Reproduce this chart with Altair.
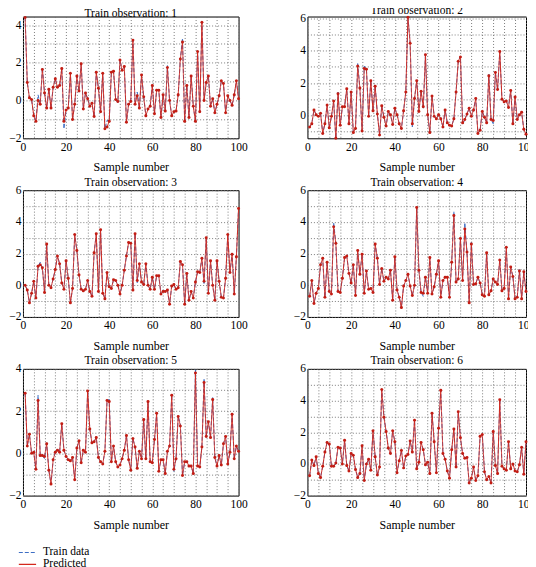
import math
import altair as alt
import pandas as pd

SAMPLES = list(range(1, 101))
SERIES = ["Train data", "Predicted"]
COLORS = ["#3d6ec4", "#d4281c"]

PRED_1 = [4.4, 0.95, 0.15, 0.05, -0.8, -1.1, 0.0, -0.2, 1.65, 0.4,
          -0.4, 0.6, -0.4, 0.7, 1.15, 0.7, 0.8, 1.7, -1.1, -0.5,
          -0.4, 1.45, -1.0, -0.2, 1.3, 0.5, 1.95, -0.45, 0.4, 0.1,
          -0.3, -0.15, -0.85, 1.5, 0.65, -0.6, 1.45, -1.5, -1.4, -1.1,
          1.5, 1.55, 0.05, -0.05, 2.15, 1.6, 1.8, -1.15, -0.2, -0.05,
          3.2, -0.2, 0.25, -0.4, 1.35, 0.2, -0.8, -0.45, -0.3, 0.8,
          -0.7, 0.55, 0.55, -0.9, 0.3, -0.55, 1.75, 0.0, -0.8, -0.6,
          -0.55, 0.3, 2.2, 3.1, -1.1, 0.8, -0.9, 1.3, -0.3, -1.1,
          2.6, -0.6, 4.15, 0.0, 0.95, 1.3, -0.3, 0.1, -0.65, -0.2,
          0.25, 1.05, 0.9, -0.65, 0.25, 0.0, -0.25, 0.3, 1.05, 0.1]
TRAIN_FIX_1 = {7: 0.3, 9: 1.75, 19: -1.5, 39: -1.05, 44: -0.1, 53: 0.45, 67: 1.85, 74: 3.3}

PRED_2 = [-0.7, -0.5, 0.35, 0.05, -0.05, 0.15, -1.1, -0.5, 0.65, -0.75,
          -0.05, 0.9, -1.4, 1.35, -0.6, 0.55, 0.55, 1.65, -0.5, 1.45,
          -1.05, -0.8, 3.05, 1.7, -0.95, 2.9, 2.85, -0.05, 2.15, 0.3,
          1.8, 0.1, -1.2, 0.6, -0.1, -0.65, 0.25, 0.05, -0.55, 0.45,
          0.05, -0.5, -0.8, 0.3, 1.45, 6.05, 4.45, -0.5, 1.05, 2.15,
          0.25, 1.5, 0.55, 3.75, 0.05, -1.05, 1.2, -0.05, -0.2, 0.05,
          -0.2, -0.7, 0.35, -0.45, -0.6, -0.65, -0.2, 1.45, 3.35, 3.6,
          -0.45, -0.25, 0.1, 0.45, -0.05, 0.35, 1.05, -1.1, -0.9, 0.25,
          -0.1, -0.45, 2.45, -0.25, -0.3, 2.65, 1.6, 3.95, 1.0, 0.85,
          0.9, 0.5, 1.55, -0.5, 1.15, -0.25, 0.05, 0.2, -0.85, -1.15]
TRAIN_FIX_2 = {14: 1.45, 23: 3.2, 26: 3.05, 48: -0.7, 53: 0.45, 70: 3.65, 71: -0.55, 83: 2.55, 85: -0.5}

PRED_3 = [0.0, -0.3, -1.1, -0.5, 0.25, -0.8, 1.2, 1.3, 1.1, -0.45,
          2.6, 0.0, -0.15, 0.4, 1.0, 1.85, 1.35, 0.15, -0.25, 1.55,
          0.45, -1.1, -0.2, 3.2, 2.2, 0.65, -0.25, -0.35, -0.25, 0.3,
          -0.4, -0.7, 2.05, 3.25, -0.4, 3.5, -0.5, -0.85, 0.8, -0.1,
          -0.2, 0.35, 0.3, 0.0, -0.55, 0.0, 0.95, 1.85, 2.7, 2.65,
          -0.3, 3.25, 0.3, 1.35, 0.2, 0.05, 1.35, 0.0, -0.25, 0.5,
          -0.25, 0.6, 0.6, -0.55, -0.4, -0.4, -0.3, -1.2, -0.05, 0.05,
          -0.25, -0.15, 1.5, 1.3, -1.2, 0.75, -0.95, -0.4, -0.8, 0.2,
          0.85, 0.8, 1.7, 0.25, 3.0, -0.5, 1.55, 0.0, -0.95, 1.55,
          0.25, -0.75, -0.8, 0.45, 3.2, 0.8, 1.95, -0.55, 1.8, 4.85]
TRAIN_FIX_3 = {8: 1.45, 28: -0.4, 53: 0.15, 65: -0.3, 84: 0.05, 97: 2.0}

PRED_4 = [-0.7, 0.3, -1.15, -0.5, -0.2, 1.3, 1.7, -0.75, 1.45, -0.4,
          -0.55, 3.7, 2.65, -0.4, -0.45, 0.45, 1.75, 1.85, 0.75, 0.15,
          1.3, -0.65, 2.2, 0.7, 1.95, -0.5, 0.9, -0.25, -0.2, -0.45,
          2.6, 1.7, 0.05, 1.05, 0.25, 0.5, 0.4, 0.95, -0.95, 1.8,
          -0.3, -0.75, -1.4, -0.05, 0.3, 0.7, -0.05, -0.65, 0.0, 4.9,
          0.95, -0.45, -0.5, 0.5, -0.5, 1.75, -0.55, -0.1, 0.7, 1.55,
          -0.75, 0.3, 0.5, 0.5, -0.75, 1.45, 4.4, 0.2, 0.4, 2.95,
          0.3, 3.55, 2.1, -1.1, 2.6, 0.05, 0.1, 0.5, 0.15, -0.6,
          -0.7, 2.05, -0.6, -0.35, 0.4, 0.2, 0.05, 1.6, -0.35, -0.2,
          2.4, -0.85, 1.15, 0.55, -0.85, -0.75, 0.9, -0.85, 0.85, -0.4]
TRAIN_FIX_4 = {12: 3.95, 53: -0.7, 61: -0.8, 67: 4.65, 72: 3.95, 75: 2.7, 97: 1.0}

PRED_5 = [2.85, 0.35, 0.9, 0.0, 0.05, -0.75, 2.5, -0.1, -0.1, -0.15,
          0.45, -0.8, -1.45, -0.3, 0.05, 0.15, 0.05, 1.4, 0.15, -0.15,
          -0.3, -0.35, -0.2, -1.25, 0.25, 0.6, -0.45, 0.15, 0.05, 2.95,
          1.15, 0.5, 0.55, 0.75, -0.2, -0.4, -0.5, 0.1, 2.5, 2.45,
          -0.4, 0.35, -0.4, -0.65, -0.55, -0.25, 0.15, 0.85, -0.3, -0.8,
          0.7, 0.3, -0.7, 0.1, -0.25, 1.6, -0.25, 2.45, -0.4, -0.45,
          0.65, 1.9, -0.85, -0.3, -0.3, -0.95, 0.1, 0.35, 2.75, -0.75,
          -0.25, 1.75, 1.3, -1.05, -0.4, -0.4, -0.6, -0.6, -0.95, 3.8,
          -0.6, -0.65, 0.3, 3.35, 0.8, 1.5, 0.75, 2.55, -0.2, -0.6,
          -0.1, -0.55, 0.45, 0.8, -0.5, 0.05, 1.85, -0.25, 0.35, 0.1]
TRAIN_FIX_5 = {7: 2.75, 10: -0.25, 11: 0.5, 16: 0.2, 40: 2.55, 70: -0.85, 73: 1.4, 80: 3.95, 84: 3.5, 88: 2.65}

PRED_6 = [-0.75, 0.25, -0.1, 0.45, -0.6, -0.85, -0.15, 0.75, 1.35, 1.25,
          -0.15, -0.15, 0.05, 1.05, 1.0, 0.0, 1.5, -0.1, -0.45, 0.65,
          0.55, -0.35, -0.85, -0.6, 1.15, -1.05, 0.0, 0.3, -0.4, 2.1,
          0.45, -0.7, -0.2, 4.7, 2.95, 2.05, 1.0, 0.65, 2.1, 1.4,
          -0.55, 0.2, 0.85, -0.25, 0.5, 0.6, 1.45, 0.75, 2.75, -0.3,
          0.1, 1.35, 0.9, -0.05, 0.1, -0.6, 3.2, 1.4, -0.55, 2.25,
          4.65, 0.65, 0.3, -0.45, -0.9, 0.9, 2.2, -0.2, 3.3, 1.65,
          0.65, 0.35, 0.4, -1.2, -0.9, -0.2, -1.05, -0.75, 1.75, 1.85,
          -0.5, -1.0, -0.8, -1.2, 2.05, -0.1, -0.6, 4.05, -0.15, -0.3,
          -0.4, 1.4, -0.3, 0.0, -0.45, -0.5, -0.05, 1.05, -0.65, 1.4]
TRAIN_FIX_6 = {32: -0.75}

PREDS = [PRED_1, PRED_2, PRED_3, PRED_4, PRED_5, PRED_6]
FIXES = [TRAIN_FIX_1, TRAIN_FIX_2, TRAIN_FIX_3, TRAIN_FIX_4, TRAIN_FIX_5, TRAIN_FIX_6]
Y_DOMAINS = [(-2, 4.45), (-1.4, 6.1), (-2, 6), (-2, 6), (-2, 4), (-2, 6)]
HEIGHTS = [122, 122, 127, 127, 127, 127]
WIDTHS = [216, 219, 216, 219, 216, 219]

FONT = "Liberation Serif"


def panel(i):
    pred = PREDS[i]
    fixes = FIXES[i]
    train = [fixes.get(x, v) for x, v in zip(SAMPLES, pred)]
    df = pd.DataFrame({
        "x": SAMPLES + SAMPLES,
        "y": train + pred,
        "series": [SERIES[0]] * len(SAMPLES) + [SERIES[1]] * len(SAMPLES),
    })
    lo, hi = Y_DOMAINS[i]
    yvals = [k * 0.5 for k in range(math.ceil(lo * 2), math.floor(hi * 2) + 1)]
    xvals = list(range(0, 101, 5))

    x = alt.X("x:Q", scale=alt.Scale(domain=[0, 100], nice=False),
              axis=alt.Axis(values=xvals, title="Sample number", format="d",
                            labelExpr="datum.value % 20 === 0 ? datum.label : ''"))
    y = alt.Y("y:Q", scale=alt.Scale(domain=[lo, hi], nice=False, zero=False),
              axis=alt.Axis(values=yvals, title=None, format="d",
                            labelExpr="datum.value % 2 === 0 ? datum.label : ''"))
    leg = alt.Legend(orient="none", legendX=-5, legendY=531, title=None,
                     symbolType="stroke", symbolSize=300, symbolStrokeWidth=1.2,
                     labelFont=FONT, labelFontSize=11.5, labelOffset=6,
                     clipHeight=12, rowPadding=0, padding=0)
    color = alt.Color("series:N", scale=alt.Scale(domain=SERIES, range=COLORS), legend=leg)
    dash = alt.StrokeDash("series:N", scale=alt.Scale(domain=SERIES, range=[[4, 2], [1, 0]]), legend=leg)

    base = alt.Chart(df)
    train_line = base.transform_filter(alt.datum.series == SERIES[0]).mark_line(strokeWidth=1).encode(
        x=x, y=y, color=color, strokeDash=dash)
    pred_line = base.transform_filter(alt.datum.series == SERIES[1]).mark_line(strokeWidth=1).encode(
        x=x, y=y, color=color, strokeDash=dash)
    pred_pts = base.transform_filter(alt.datum.series == SERIES[1]).mark_point(
        filled=True, size=9, color="#c21d14", opacity=1).encode(x=x, y=y)

    return alt.layer(train_line, pred_line, pred_pts).properties(
        width=WIDTHS[i], height=HEIGHTS[i],
        title=alt.TitleParams(f"Train observation: {i + 1}", font=FONT, fontSize=11.5,
                              fontWeight="normal", offset=3, dy=7, color="black", frame="group"))


chart = alt.concat(*[panel(i) for i in range(6)], columns=2,
                   spacing={"row": 52, "column": 69}, bounds="flush").properties(
    padding={"left": 0, "top": -5, "right": -8, "bottom": 0}
).configure_view(stroke="black", strokeWidth=1).configure_axis(
    domain=False, ticks=False, grid=True, gridColor="#6f6f6f", gridDash=[1, 2],
    gridWidth=1, gridOpacity=0.9, labelFont=FONT, labelFontSize=11.5, labelColor="black",
    labelPadding=2, labelFlush=False, labelOverlap=False, titleFont=FONT,
    titleFontSize=12, titleFontWeight="normal", titleColor="black", titlePadding=9
).configure_axisX(labelPadding=3).configure_title(anchor="middle")

chart.save("out.html", embed_options={"renderer": "svg", "actions": False})
